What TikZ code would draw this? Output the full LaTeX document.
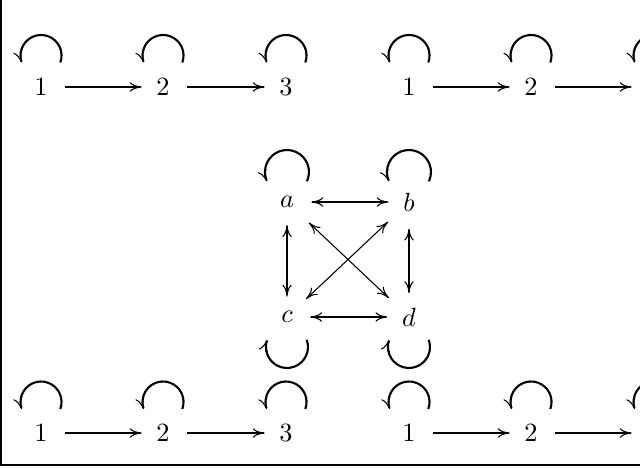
\documentclass[tikz,border=0pt]{standalone}
\usepackage{amsmath}
\usepackage{tikz}
\usetikzlibrary{arrows.meta}

\begin{document}
\begin{tikzpicture}[->,>={To[length=4.5pt,width=3.6pt,line width=0.4pt]},shorten >=2pt,shorten <=3pt,semithick,x=0.38pt,y=0.38pt]
    \tikzstyle{selfloop}=[thick, shorten >=0pt, shorten <=0pt]
    \tikzstyle{frame}=[-, line width=0.8pt, shorten >=0pt, shorten <=0pt]

    \useasboundingbox (0, 0) rectangle (640, 467);
    \clip (0, 0) rectangle (640, 467);

    % top row
    \node (T1) at (41, 380) {$1$};
    \node (T2) at (163, 380) {$2$};
    \node (T3) at (286, 380) {$3$};
    \node (U1) at (409, 380) {$1$};
    \node (U2) at (531, 380) {$2$};
    \coordinate (U3) at (654, 380);

    % square
    \node (A) at (287, 265) {$a$};
    \node (B) at (409, 265) {$b$};
    \node (C) at (287, 150) {$c$};
    \node (D) at (409, 150) {$d$};

    % bottom row
    \node (L1) at (41, 34) {$1$};
    \node (L2) at (163, 34) {$2$};
    \node (L3) at (286, 34) {$3$};
    \node (M1) at (409, 34) {$1$};
    \node (M2) at (531, 34) {$2$};
    \coordinate (M3) at (654, 34);

    \draw[frame] (1, 467) -- (1, 2) -- (640, 2);

    \path (T1) edge (T2);
    \path (T2) edge (T3);
    \path (U1) edge (U2);
    \path (U2) edge[shorten >=8.5pt] (U3);

    \path (A) edge[<->] (B);
    \path (A) edge[<->] (C);
    \path (B) edge[<->, thick] (D);
    \path (C) edge[<->, thick] (D);
    \path (A) edge[<->, thin] (D);
    \path (B) edge[<->, thin] (C);

    \path (L1) edge[thick] (L2);
    \path (L2) edge[thick] (L3);
    \path (M1) edge[thick] (M2);
    \path (M2) edge[thick, shorten >=8.5pt] (M3);

    \draw[selfloop] (T1) ++(19.3, 24.5) arc[start angle=-20, end angle=200, radius=20.5];
    \draw[selfloop] (T2) ++(19.3, 24.5) arc[start angle=-20, end angle=200, radius=20.5];
    \draw[selfloop] (T3) ++(19.3, 24.5) arc[start angle=-20, end angle=200, radius=20.5];
    \draw[selfloop] (U1) ++(19.3, 24.5) arc[start angle=-20, end angle=200, radius=20.5];
    \draw[selfloop] (U2) ++(19.3, 24.5) arc[start angle=-20, end angle=200, radius=20.5];
    \draw[selfloop] (U3) ++(19.3, 24.5) arc[start angle=-20, end angle=200, radius=20.5];

    \draw[selfloop] (A) ++(19.9, 20.7) arc[start angle=-25, end angle=205, radius=22];
    \draw[selfloop] (B) ++(19.9, 20.7) arc[start angle=-25, end angle=205, radius=22];
    \draw[selfloop] (C) ++(19.7, -22.8) arc[start angle=20, end angle=-200, radius=21];
    \draw[selfloop] (D) ++(19.7, -22.8) arc[start angle=20, end angle=-200, radius=21];

    \draw[selfloop] (L1) ++(19.3, 24) arc[start angle=-20, end angle=200, radius=20.5];
    \draw[selfloop] (L2) ++(19.3, 24) arc[start angle=-20, end angle=200, radius=20.5];
    \draw[selfloop] (L3) ++(19.3, 24) arc[start angle=-20, end angle=200, radius=20.5];
    \draw[selfloop] (M1) ++(19.3, 24) arc[start angle=-20, end angle=200, radius=20.5];
    \draw[selfloop] (M2) ++(19.3, 24) arc[start angle=-20, end angle=200, radius=20.5];
    \draw[selfloop] (M3) ++(19.3, 24) arc[start angle=-20, end angle=200, radius=20.5];
\end{tikzpicture}
\end{document}
